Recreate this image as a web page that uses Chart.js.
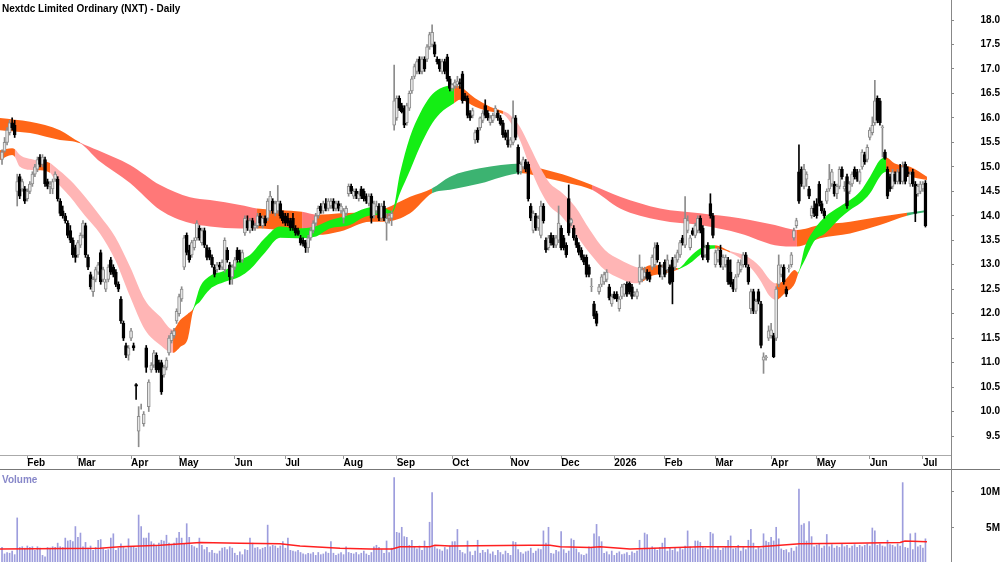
<!DOCTYPE html>
<html><head><meta charset="utf-8">
<script src="https://cdn.jsdelivr.net/npm/chart.js@4.4.1/dist/chart.umd.min.js"></script>
<style>
html,body{margin:0;padding:0;background:#fff;}
#wrap{position:relative;width:1000px;height:562px;overflow:hidden;background:#fff;}
#price{position:absolute;left:0;top:0;}
#vol{position:absolute;left:0;top:469px;}
</style></head><body>
<div id="wrap"><canvas id="price" width="1000" height="469"></canvas><canvas id="vol" width="1000" height="93"></canvas></div>
<script>
const title = 'Nextdc Limited Ordinary (NXT) - Daily';
const monthTicks = [10,30,51,70,92,112,135,156,178,201,221,242,262,282,304,322,343,364];
const monthLabels = ['Feb','Mar','Apr','May','Jun','Jul','Aug','Sep','Oct','Nov','Dec','2026','Feb','Mar','Apr','May','Jun','Jul'];
const priceTicks = [9.5,10.0,10.5,11.0,11.5,12.0,12.5,13.0,13.5,14.0,14.5,15.0,15.5,16.0,16.5,17.0,17.5,18.0];
const volumeTicks = [5,10];

// [open, high, low, close] per trading day
const ohlc = [
[15.15,15.35,15.05,15.3],[15.32,15.6,15.3,15.5],[15.5,15.8,15.45,15.75],[15.7,15.95,15.65,15.9],[15.9,16.0,15.75,15.8],
[15.85,15.95,15.6,15.65],[14.5,14.85,14.2,14.7],[14.8,14.85,14.35,14.4],[14.55,14.75,14.5,14.7],[14.55,14.6,14.25,14.3],
// Feb
[14.35,14.55,14.3,14.5],[14.5,14.7,14.45,14.65],[14.65,14.9,14.6,14.85],[14.85,15.05,14.8,15.0],[14.95,15.2,14.9,15.15],
[15.2,15.25,15.0,15.05],[15.05,15.25,15.0,15.2],[15.15,15.2,14.6,14.65],[14.7,14.75,14.55,14.6],[14.6,14.7,14.45,14.65],
[14.55,14.75,14.45,14.7],[14.75,14.9,14.7,14.85],[14.75,14.8,14.3,14.35],[14.3,14.35,14.0,14.05],[14.1,14.2,13.95,14.0],
[14.0,14.05,13.85,13.9],[13.85,13.9,13.55,13.6],[13.7,13.8,13.45,13.5],[13.5,13.55,13.15,13.2],[13.35,13.4,13.05,13.15],
// Mar
[13.2,13.5,13.15,13.45],[13.4,13.65,13.35,13.6],[13.6,13.9,13.55,13.85],[13.8,13.85,13.15,13.2],[13.15,13.2,12.9,12.95],
[12.8,12.85,12.5,12.55],[12.45,12.75,12.35,12.7],[12.7,12.95,12.65,12.9],[12.85,13.05,12.8,13.0],[13.25,13.3,12.6,12.65],
[12.7,12.95,12.65,12.9],[12.5,12.7,12.45,12.65],[12.7,13.0,12.65,12.95],[13.1,13.15,12.8,12.85],[12.95,13.0,12.75,12.8],
[12.85,12.9,12.55,12.6],[12.6,12.65,12.45,12.5],[12.3,12.35,11.8,11.85],[11.8,11.85,11.45,11.5],[11.35,11.4,11.1,11.15],
[11.15,11.35,11.05,11.3],
// Apr
[11.5,11.7,11.45,11.65],[11.35,11.4,11.25,11.3],[10.55,10.57,10.25,10.52],[9.6,10.1,9.28,9.9],[10.1,10.15,10.05,10.1],
[9.75,10.0,9.7,9.95],[11.3,11.35,10.8,10.9],[10.1,10.65,10.0,10.6],[10.85,11.0,10.8,10.95],[10.95,11.25,10.9,11.2],
[11.15,11.2,10.8,10.85],[11.0,11.05,10.8,10.85],[11.0,11.05,10.35,10.4],[10.75,10.95,10.7,10.9],[10.9,11.1,10.85,11.05],
[11.2,11.55,11.15,11.5],[11.45,11.65,11.4,11.6],[11.55,11.7,11.5,11.65],[11.85,12.1,11.8,12.05],
// May
[12.0,12.4,11.95,12.35],[12.3,12.55,12.25,12.5],[12.95,13.6,12.9,13.55],[13.6,13.65,13.2,13.25],[13.3,13.4,13.05,13.1],
[13.2,13.5,13.15,13.45],[13.35,13.55,13.3,13.5],[13.55,13.9,13.5,13.85],[13.75,13.8,13.5,13.55],[13.45,13.75,13.4,13.7],
[13.7,13.75,13.35,13.4],[13.35,13.4,13.1,13.15],[13.3,13.35,13.1,13.15],[13.15,13.2,12.95,13.0],[12.95,13.0,12.75,12.8],
[12.9,13.05,12.85,13.0],[13.0,13.05,12.9,12.95],[12.95,13.1,12.9,13.05],[12.9,13.55,12.85,13.5],[13.3,13.35,13.05,13.1],
[13.0,13.05,12.6,12.75],[12.75,13.0,12.6,12.95],
// Jun
[12.95,13.15,12.9,13.1],[13.3,13.35,13.05,13.1],[13.25,13.3,13.05,13.1],[13.1,13.3,13.05,13.25],[13.65,14.0,13.6,13.95],
[13.9,14.0,13.7,13.75],[13.7,13.95,13.65,13.9],[13.9,13.95,13.7,13.75],[13.75,13.85,13.7,13.8],[13.8,14.05,13.75,14.0],
[14.0,14.05,13.8,13.85],[13.8,14.0,13.75,13.95],[13.95,14.0,13.8,13.85],[13.95,14.35,13.9,14.3],[14.1,14.5,14.05,14.4],
[14.3,14.35,14.05,14.1],[14.05,14.3,14.0,14.25],[14.1,14.62,14.05,14.3],[14.25,14.3,13.95,14.0],[14.05,14.1,13.85,13.9],
// Jul
[14.0,14.05,13.8,13.85],[13.95,14.05,13.8,13.85],[13.9,13.95,13.7,13.75],[13.95,14.05,13.7,13.75],[13.75,13.8,13.6,13.65],
[13.7,13.75,13.6,13.62],[13.55,13.6,13.4,13.45],[13.5,13.55,13.38,13.42],[13.45,13.5,13.25,13.35],[13.35,13.6,13.25,13.55],
[13.55,13.75,13.5,13.7],[13.7,13.9,13.65,13.85],[13.85,14.05,13.8,14.0],[14.0,14.2,13.95,14.15],[14.2,14.25,14.05,14.1],
[14.1,14.3,14.05,14.25],[14.25,14.35,14.1,14.15],[14.15,14.35,14.1,14.3],[14.2,14.35,14.15,14.3],[14.3,14.35,14.1,14.15],
[14.15,14.3,14.1,14.25],[14.25,14.3,14.1,14.15],[14.1,14.25,14.05,14.2],
// Aug
[13.95,14.15,13.85,14.1],[14.05,14.2,14.0,14.15],[14.45,14.65,14.4,14.6],[14.6,14.65,14.45,14.5],[14.4,14.55,14.35,14.5],
[14.5,14.55,14.35,14.4],[14.35,14.5,14.3,14.45],[14.55,14.6,14.35,14.4],[14.5,14.55,14.3,14.35],[14.4,14.45,14.25,14.3],
[14.25,14.45,14.2,14.4],[14.4,14.45,13.85,13.95],[14.0,14.3,13.95,14.25],[14.1,14.3,14.05,14.2],[14.2,14.25,13.9,13.95],
[13.95,14.25,13.9,14.2],[14.2,14.3,13.9,13.95],[13.85,14.05,13.5,13.95],[13.95,14.05,13.85,14.0],[13.95,14.1,13.8,14.05],
[15.85,17.08,15.75,16.35],
// Sep
[16.0,16.45,15.95,16.4],[16.4,16.45,16.15,16.2],[16.25,16.3,16.1,16.12],[16.2,16.25,15.8,15.85],[15.9,16.3,15.85,16.25],
[16.2,16.55,16.15,16.5],[16.55,16.85,16.5,16.8],[16.85,17.1,16.8,17.05],[16.95,17.2,16.9,17.15],[17.2,17.25,16.9,16.95],
[16.95,17.25,16.9,17.2],[17.2,17.25,16.95,17.0],[17.2,17.5,17.15,17.45],[17.45,17.75,17.4,17.7],[17.5,17.9,17.45,17.75],
[17.5,17.55,17.25,17.3],[17.2,17.25,17.1,17.15],[17.15,17.2,16.95,17.0],[16.95,17.2,16.9,17.15],[17.15,17.2,16.9,16.95],
[17.25,17.3,16.75,16.8],[16.8,16.85,16.55,16.6],
// Oct
[16.6,16.7,16.55,16.68],[16.65,16.78,16.6,16.72],[16.68,16.85,16.62,16.75],[16.72,16.8,16.6,16.7],[16.9,16.95,16.3,16.35],
[16.45,16.5,16.35,16.38],[16.4,16.45,16.0,16.05],[16.1,16.15,15.95,16.0],[16.05,16.2,16.0,16.15],[15.55,15.75,15.48,15.7],
[15.75,15.8,15.5,15.55],[15.8,16.02,15.75,16.0],[15.95,16.15,15.9,16.1],[16.25,16.37,16.0,16.05],[16.1,16.15,15.95,16.0],
[15.9,16.05,15.85,16.0],[15.95,16.1,15.9,16.05],[16.05,16.25,16.0,16.2],[16.1,16.15,15.95,16.0],[16.0,16.05,15.85,15.88],
[15.9,15.95,15.6,15.65],[15.7,15.75,15.55,15.6],[15.55,15.75,15.4,15.45],
// Nov
[15.45,15.6,15.4,15.55],[15.5,16.35,15.45,16.0],[16.0,16.05,15.55,15.6],[15.4,15.45,14.85,14.9],[14.9,15.1,14.85,15.05],
[15.0,15.2,14.95,15.15],[15.1,15.15,14.9,14.95],[15.05,15.1,14.3,14.35],[14.2,14.25,13.9,13.95],[13.7,14.1,13.65,14.05],
[14.0,14.05,13.7,13.75],[13.75,14.0,13.7,13.95],[13.6,14.3,13.55,14.2],[14.2,14.25,13.85,13.9],[13.5,13.55,13.25,13.3],
[13.35,13.6,13.3,13.55],[13.6,13.65,13.4,13.45],[13.55,13.6,13.35,13.4],[13.4,13.6,13.35,13.55],[13.5,14.2,13.45,13.85],
// Dec
[13.75,13.8,13.3,13.35],[13.55,13.6,13.3,13.35],[13.4,13.45,13.15,13.2],[14.35,14.63,13.6,13.65],[13.85,13.95,13.8,13.92],
[13.75,13.8,13.5,13.55],[13.55,13.6,13.35,13.4],[13.4,13.45,13.2,13.25],[13.3,13.35,13.1,13.15],[13.15,13.2,13.0,13.05],
[13.15,13.2,12.75,12.8],[12.95,13.0,12.75,12.8],[12.55,12.72,12.45,12.56],[12.2,12.25,11.9,11.95],[12.0,12.05,11.75,11.8],
[12.45,12.6,12.4,12.55],[12.6,12.8,12.55,12.75],[12.65,12.85,12.6,12.8],[12.7,12.9,12.65,12.85],[12.55,12.6,12.28,12.32],
[12.2,12.4,12.15,12.35],
// Jan 2026
[12.4,12.45,12.3,12.32],[12.4,12.45,12.25,12.3],[12.1,12.35,12.05,12.3],[12.35,12.6,12.3,12.55],[12.4,12.62,12.35,12.6],
[12.6,12.65,12.35,12.4],[12.62,12.65,12.4,12.45],[12.55,12.6,12.3,12.35],[12.4,12.45,12.35,12.41],[12.35,12.5,12.3,12.45],
[12.65,13.2,12.6,12.95],[12.7,12.95,12.65,12.9],[12.75,12.95,12.7,12.85],[12.85,12.9,12.68,12.72],[12.8,12.85,12.65,12.7],
[12.95,13.2,12.9,13.15],[13.0,13.45,12.95,13.35],[13.4,13.45,13.05,13.1],[13.0,13.05,12.75,12.8],[12.75,13.0,12.7,12.95],
// Feb 2026
[13.05,13.1,12.75,12.8],[12.9,13.2,12.85,13.1],[12.95,13.0,12.6,12.62],[13.1,13.15,12.2,12.65],[12.95,13.2,12.9,13.15],
[13.1,13.3,13.05,13.25],[13.2,13.5,13.15,13.45],[13.55,13.6,13.4,13.45],[13.4,14.39,13.35,13.95],[13.7,14.0,13.65,13.9],
[13.35,13.6,13.3,13.55],[13.7,13.75,13.6,13.62],[13.6,13.85,13.55,13.8],[13.7,14.0,13.65,13.95],[13.95,14.0,13.65,13.7],
[13.75,13.8,13.1,13.15],[13.2,13.4,13.15,13.35],[13.4,13.45,13.05,13.1],[14.25,14.45,13.95,14.0],[14.0,14.05,13.55,13.6],
// Mar 2026
[13.0,13.3,12.95,13.25],[13.1,13.35,13.05,13.3],[13.3,13.4,12.95,13.0],[12.95,13.2,12.9,13.15],[13.0,13.2,12.95,13.15],
[13.1,13.15,12.6,12.65],[12.85,13.1,12.55,12.6],[12.65,12.7,12.45,12.5],[12.5,12.8,12.45,12.75],[12.8,13.1,12.75,13.05],
[12.9,13.1,12.85,13.0],[13.0,13.25,12.95,13.2],[13.2,13.25,12.95,13.0],[12.95,13.0,12.6,12.65],[12.1,12.5,12.0,12.45],
[12.45,12.5,12.0,12.05],[12.05,12.3,12.0,12.25],[12.45,12.5,12.2,12.25],[12.2,12.25,11.3,11.35],[11.05,11.2,10.78,11.12],
[11.1,11.15,11.05,11.12],[11.5,11.75,11.45,11.65],
// Apr 2026
[11.55,11.8,11.5,11.67],[11.55,11.6,11.1,11.12],[11.5,12.55,11.45,12.5],[12.6,13.2,12.55,13.0],[12.8,13.0,12.75,12.95],
[12.95,13.0,12.6,12.65],[12.5,12.55,12.35,12.4],[12.92,13.0,12.85,12.93],[13.0,13.25,12.95,13.2],[13.55,13.75,13.5,13.7],
[13.8,13.95,13.75,13.9],[14.9,15.45,14.25,14.3],[14.95,15.0,14.6,14.65],[14.6,15.05,14.55,14.95],[14.75,14.9,14.6,14.85],
[14.55,14.6,14.35,14.4],[14.0,14.2,13.95,14.15],[14.15,14.3,13.98,14.05],
// May 2026
[14.25,14.35,13.95,14.0],[14.65,14.7,14.2,14.25],[14.25,14.3,14.05,14.1],[14.1,14.15,13.95,14.0],[14.3,14.55,14.25,14.5],
[14.55,15.05,14.5,14.75],[14.65,14.95,14.6,14.9],[14.65,14.7,14.4,14.45],[14.45,14.65,14.35,14.6],[14.6,15.0,14.55,14.95],
[14.95,15.0,14.75,14.8],[14.55,14.7,14.5,14.6],[14.8,14.85,14.15,14.2],[14.5,14.7,14.45,14.65],[14.65,14.9,14.6,14.85],
[14.95,15.0,14.75,14.8],[14.9,14.95,14.7,14.75],[14.7,14.95,14.65,14.9],[15.0,15.35,14.95,15.3],[15.25,15.3,15.05,15.1],
[15.15,15.45,15.1,15.4],
// Jun 2026
[15.6,15.8,15.55,15.75],[15.7,16.02,15.65,15.85],[15.9,16.77,15.85,16.35],[16.4,16.45,15.9,15.95],[16.35,16.4,15.85,15.9],
[15.8,15.85,15.2,15.82],[15.3,15.35,15.15,15.17],[14.95,15.0,14.35,14.4],[14.8,14.85,14.5,14.55],[14.6,14.95,14.55,14.9],
[14.85,14.9,14.65,14.7],[14.7,14.95,14.65,14.9],[14.9,15.05,14.65,14.7],[14.7,15.1,14.65,15.0],[15.05,15.1,14.65,14.7],
[14.9,15.0,14.8,14.85],[14.65,14.9,14.6,14.85],[14.9,14.95,14.6,14.65],[14.65,14.7,13.88,14.05],[14.45,14.65,14.4,14.6],
[14.5,14.7,14.45,14.65],
// Jul 2026
[14.55,14.7,14.5,14.65],[14.67,14.72,13.77,13.8]
];

// daily volume, millions
const volumes = [
2.3,1.4,1.6,1.5,1.8,1.3,6.4,2.3,2.4,2.2, 2.5,2.3,2.4,1.9,2.4,2.2,1.2,1.0,2.3,2.2,
2.4,2.3,2.9,2.4,2.3,3.6,3.2,3.3,3.1,5.2, 3.7,4.3,2.4,3.0,2.2,2.5,1.9,2.3,3.3,3.4,
2.1,1.9,2.0,3.6,4.2,1.9,2.2,2.8,2.3,2.1, 3.5,2.3,2.4,2.2,6.8,5.2,3.6,3.6,4.3,3.1,
2.8,2.5,2.9,3.3,3.2,4.0,2.9,2.6,2.9,3.6, 4.4,3.6,2.8,5.6,3.7,2.6,2.4,2.2,3.6,2.6,
2.0,2.3,1.6,1.9,1.5,1.4,1.8,2.2,2.3,2.0, 2.4,2.2,1.5,1.2,1.7,1.3,2.0,1.9,3.6,2.9,
2.2,2.3,2.0,2.2,2.3,5.4,2.4,2.6,2.5,2.2, 2.5,3.1,2.2,3.6,1.9,1.8,1.7,1.9,1.6,1.4,
1.3,1.5,1.4,1.6,1.2,1.6,1.3,1.4,1.7,1.5, 3.1,1.5,1.2,1.4,1.6,1.3,2.4,1.6,1.5,1.4,
1.6,1.3,1.5,1.8,1.4,1.2,1.6,2.4,2.6,2.3, 2.0,1.5,3.2,1.6,2.2,12.0,4.4,4.3,5.1,3.8,
3.7,2.6,3.3,2.4,2.1,2.5,1.9,3.2,2.3,5.8, 9.9,2.4,2.1,2.0,1.8,2.3,2.0,2.5,3.1,3.1,
4.8,1.9,1.6,1.4,3.2,1.7,1.2,1.8,3.3,1.5, 1.9,1.6,2.0,1.4,1.7,1.2,1.9,1.6,1.3,1.8,
1.5,1.2,3.1,3.0,2.0,1.6,1.4,1.7,1.8,2.2, 1.5,1.8,2.1,2.0,4.6,2.9,5.1,1.5,1.4,1.9,
1.7,4.5,2.0,1.5,1.8,3.5,3.3,2.1,1.6,1.3, 1.2,1.4,2.4,2.3,4.2,5.5,3.8,3.1,1.5,1.7,
1.3,1.8,1.2,1.5,1.7,1.3,1.4,1.6,1.2,1.7, 1.5,1.8,3.3,2.0,4.3,4.1,2.1,2.4,2.2,1.9,
2.3,2.9,3.6,1.8,2.2,1.9,2.3,1.7,2.2,2.0, 2.5,4.6,2.4,2.1,3.2,3.2,3.0,2.4,2.2,2.0,
4.4,4.2,2.0,2.3,1.9,2.2,2.4,3.3,3.9,2.1, 2.2,2.6,1.8,2.3,2.0,3.3,4.8,2.9,2.0,2.3,
2.1,4.2,3.2,3.0,3.7,3.2,5.1,3.5,2.1,1.9, 2.0,1.6,2.2,1.8,2.4,10.4,5.4,5.6,3.2,5.9,
3.8,2.4,2.6,2.8,2.2,2.5,4.1,2.4,2.7,2.2, 2.5,2.3,2.8,2.4,2.6,2.2,2.5,2.7,2.3,2.6,
2.4,2.6,2.8,2.5,5.0,4.6,2.6,2.8,2.5,2.4, 3.3,2.7,2.6,2.4,2.8,2.5,11.3,2.3,2.2,4.2,
2.0,4.3,2.4,2.6,2.2,3.5
];

// volume average line
const volAvgX = [-0.8,38.7,46.6,62.5,78.3,94.1,109.9,117.8,133.6,145.5,154.2,157.3,169.2,171.1,177.1,208.7,216.6,220.6,232.4,236.4,248.2,275.9,299.6,315.4,335.2,355.0,356.9,365.6];
const volAvgY = [2.1,2.2,2.4,2.6,3.0,2.9,2.8,2.5,2.2,2.1,2.1,2.4,2.4,2.6,2.5,2.6,2.6,2.4,2.3,2.4,2.1,2.4,2.4,2.8,2.9,3.0,3.2,3.1];

// long-term ribbon boundaries
const longX = [-0.8,11.1,22.9,30.8,37.9,50.6,62.5,74.3,82.2,94.1,100.8,109.9,118.6,124.5,133.6,145.5,151.4,161.3,170,177.1,188.9,205.5,212.6,224.5,233.2,244.3,260.1,275.9,291.7,305.5,314.2,323.3,335.2,347,357.7,365.6];
const longUpper = [16.0,15.92,15.75,15.5,15.34,15.04,14.63,14.38,14.32,14.22,14.15,14.12,14.08,14.02,14.05,14.08,14.15,14.39,14.56,14.8,14.97,15.07,14.97,14.8,14.63,14.39,14.15,14.05,13.95,13.81,13.71,13.81,13.88,13.98,14.06,14.12];
const longLower = [15.75,15.69,15.55,15.48,15.14,14.67,14.12,13.85,13.78,13.74,13.74,13.71,13.64,13.61,13.68,13.88,13.88,14.05,14.46,14.53,14.66,14.87,14.8,14.66,14.53,14.15,13.91,13.81,13.64,13.4,13.37,13.54,13.64,13.81,14.0,14.08];
const longColor = ['o','o','o','r','r','r','r','r','r','r','o','o','r','o','o','o','o','o','s','s','s','o','o','o','r','r','r','r','r','r','o','o','o','o','s','s'];

// short-term ribbon boundaries
const shortX = [-0.8,4.0,5.1,7.1,13.0,13.8,19.0,20.9,26.9,32.8,38.7,44.7,50.6,56.5,62.5,67.6,70.4,73.5,75.5,78.3,82.2,88.1,94.1,98.0,104.0,109.9,117.0,123.7,129.6,137.5,143.5,149.4,154.2,157.3,161.3,165.2,169.2,173.1,178.7,181.0,187.0,192.9,198.0,200.8,204.7,208.7,212.6,216.6,220.6,226.5,232.4,238.3,244.3,250.2,253.0,256.1,262.0,267.2,271.9,275.9,279.0,281.8,287.7,294.5,299.6,303.6,306.0,309.5,313.4,314.6,317.4,321.3,325.3,331.2,335.2,339.1,343.1,347.0,349.4,352.9,358.9,365.6];
const shortUpper = [15.34,15.38,15.36,15.24,15.14,15.13,15.08,15.0,14.73,14.39,14.0,13.57,12.96,12.28,11.94,11.67,11.87,12.0,12.1,12.55,12.77,12.88,13.1,13.2,13.55,13.78,13.74,13.78,13.91,14.02,14.15,14.19,14.1,14.87,15.62,16.09,16.43,16.6,16.66,16.64,16.4,16.23,16.14,16.06,15.82,15.41,15.0,14.66,14.5,14.19,13.71,13.3,13.1,12.96,12.93,12.99,12.99,12.93,13.16,13.33,13.4,13.4,13.28,13.17,12.96,12.69,12.62,12.69,12.89,12.84,13.37,13.74,13.98,14.19,14.32,14.49,14.8,15.14,15.19,15.07,15.0,14.8];
const shortLower = [15.14,15.24,15.2,15.0,14.93,14.93,14.88,14.73,14.39,14.0,13.64,13.1,12.35,11.67,11.36,11.2,11.32,11.5,12.05,12.25,12.5,12.65,12.76,12.9,13.25,13.55,13.54,13.57,13.74,13.81,13.98,14.02,14.06,14.46,14.93,15.41,15.82,16.09,16.3,16.37,16.23,16.13,16.08,15.92,15.55,15.0,14.53,14.19,14.02,13.64,13.23,12.89,12.72,12.62,12.65,12.76,12.82,12.9,13.03,13.2,13.3,13.33,13.25,13.02,12.69,12.35,12.28,12.42,12.62,12.8,13.1,13.5,13.64,13.95,14.12,14.25,14.46,14.8,14.9,14.87,14.8,14.73];
const shortColor = ['o','o','p','p','p','o','p','p','p','p','p','p','p','p','p','o','o','o','g','g','g','g','g','g','g','g','g','g','g','g','g','g','g','g','g','g','g','g','o','o','o','o','p','p','p','p','p','p','p','p','p','p','p','p','o','o','o','g','g','g','g','o','p','p','p','p','o','o','o','g','g','g','g','g','g','g','g','g','o','o','o','o'];

const colorMap = {o:'#ff6618', r:'#ff7878', s:'#3cb371', p:'#ffb5b5', g:'#14ee14'};
const FONT = '"Liberation Sans", Arial, sans-serif';
Chart.defaults.font.family = FONT;

const XMIN = -0.8, XMAX = 375.1;
const pts = (xs, ys) => xs.map((x, k) => ({x, y: ys[k]}));
const up = ohlc.map(d => d[3] >= d[0]);

const ribbon = (xs, hi, lo, codes, order) => [
  {type:'line', data: pts(xs, hi), borderColor:'rgba(0,0,0,0)', borderWidth:0, pointRadius:0, fill:false, cubicInterpolationMode:'monotone', order},
  {type:'line', data: pts(xs, lo), borderColor:'rgba(0,0,0,0)', borderWidth:0, pointRadius:0, fill:'-1',
   backgroundColor: colorMap[codes[0]], cubicInterpolationMode:'monotone', order,
   segment:{backgroundColor: c => colorMap[codes[c.p0DataIndex]]}}
];

const rightAxis = (min, max, ticksArr, fmt) => ({
  type:'linear', position:'right', min, max,
  afterBuildTicks: s => { s.ticks = ticksArr.map(v => ({value:v})); },
  ticks:{callback: v => fmt(v), font:{size:10, weight:'bold'}, color:'#000', crossAlign:'far', padding:24},
  grid:{drawOnChartArea:false, tickLength:3, color:'#888'},
  border:{display:true, color:'#888'},
  afterFit: s => { s.width = 49; s.paddingTop = 0; s.paddingBottom = 0; }
});

const priceDecor = {
  id:'priceDecor',
  afterDraw(chart){
    const c = chart.ctx;
    c.save();
    c.fillStyle = '#000'; c.font = 'bold 10px ' + FONT; c.textAlign = 'left'; c.textBaseline = 'alphabetic';
    c.fillText(title, 2, 12);
    c.strokeStyle = '#888'; c.lineWidth = 1;
    c.beginPath(); c.moveTo(951.5, 0); c.lineTo(951.5, 469); c.stroke();
    c.restore();
  }
};

new Chart(document.getElementById('price'), {
  type:'bar',
  data:{datasets:[
    ...ribbon(longX, longUpper, longLower, longColor, 8),
    ...ribbon(shortX, shortUpper, shortLower, shortColor, 5),
    {type:'bar', data: ohlc.map((d,i) => ({x:i, y:[d[2], d[1]]})), backgroundColor: up.map(u => u ? '#8c8c8c' : '#000'),
     barThickness:1, grouped:false, order:2},
    {type:'bar', data: ohlc.map((d,i) => ({x:i, y:[d[0], d[3]]})), backgroundColor: up.map(u => u ? '#e6e6e6' : '#000'),
     borderColor: up.map(u => u ? '#8c8c8c' : '#000'), borderWidth:1, borderSkipped:false, barThickness:3, grouped:false, order:1}
  ]},
  options:{
    responsive:false, animation:false, devicePixelRatio:1,
    layout:{padding:0},
    plugins:{legend:{display:false}, tooltip:{enabled:false}},
    scales:{
      x:{type:'linear', min:XMIN, max:XMAX, offset:false,
         afterBuildTicks: s => { s.ticks = monthTicks.map(v => ({value:v})); },
         ticks:{callback:(v,i) => monthLabels[i], autoSkip:false, maxRotation:0, minRotation:0, align:'start',
                font:{size:10, weight:'bold'}, color:'#000', padding:-2},
         grid:{offset:false, drawOnChartArea:false, tickLength:4, color:'#999'},
         border:{display:true, color:'#aaa'},
         afterFit: s => { s.height = 14; s.paddingLeft = 0; s.paddingRight = 0; }},
      y: rightAxis(9.112, 18.409, priceTicks, v => v.toFixed(1))
    }
  },
  plugins:[priceDecor]
});

const volDecor = {
  id:'volDecor',
  afterDraw(chart){
    const c = chart.ctx;
    c.save();
    c.strokeStyle = '#777'; c.lineWidth = 1;
    c.beginPath(); c.moveTo(0, 0.5); c.lineTo(1000, 0.5); c.stroke();
    c.strokeStyle = '#888';
    c.beginPath(); c.moveTo(951.5, 0); c.lineTo(951.5, 93); c.stroke();
    c.fillStyle = '#8787c9'; c.font = 'bold 10px ' + FONT; c.textAlign = 'left'; c.textBaseline = 'alphabetic';
    c.fillText('Volume', 2, 14);
    c.restore();
  }
};

new Chart(document.getElementById('vol'), {
  type:'bar',
  data:{datasets:[
    {type:'line', data: pts(volAvgX, volAvgY), borderColor:'#ff2020', borderWidth:1.5, pointRadius:0, fill:false, order:1},
    {type:'bar', data: volumes.map((v,i) => ({x:i, y:v})), backgroundColor:'#9d9ddd', barThickness:1, grouped:false, order:2}
  ]},
  options:{
    responsive:false, animation:false, devicePixelRatio:1,
    layout:{padding:0},
    plugins:{legend:{display:false}, tooltip:{enabled:false}},
    scales:{
      x:{type:'linear', min:XMIN, max:XMAX, offset:false, display:false, grid:{offset:false}},
      y: rightAxis(0.28, 13.19, volumeTicks, v => v + 'M')
    }
  },
  plugins:[volDecor]
});
</script>
</body></html>
